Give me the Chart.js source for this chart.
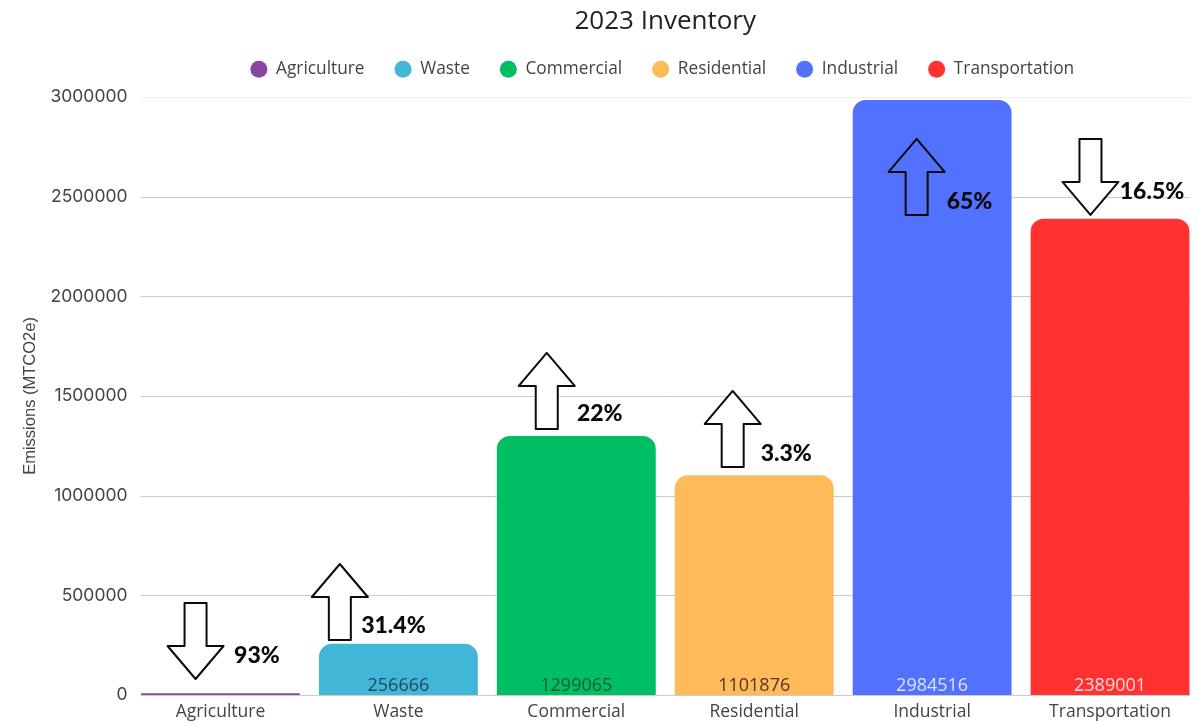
<!DOCTYPE html>
<html lang="en">
  <head>
    <meta charset="UTF-8" />
    <title>2023 Inventory</title>
    <style>
      html, body { margin: 0; background: #fff; }
      .chart-wrapper { position: relative; width: 1199px; height: 722px; }
    </style>
  </head>
  <body>
    <div class="chart-wrapper">
      <canvas id="chartBar"></canvas>
    </div>
    <script src="https://cdn.jsdelivr.net/npm/chart.js"></script>
    <script>
      const categories = ["Agriculture", "Waste", "Commercial", "Residential", "Industrial", "Transportation"];
      const emissions = [9000, 256666, 1299065, 1101876, 2984516, 2389001];
      const valueLabels = ["", "256666", "1299065", "1101876", "2984516", "2389001"];
      const barColors = ["#8746a0", "#41b6d6", "#00bf63", "#ffba5a", "#5271ff", "#ff3131"];
      const valueColors = ["#333", "#1f4a60", "#125c3c", "#55352a", "#dde3ff", "#ffdada"];
      const yTicks = [0, 500000, 1000000, 1500000, 2000000, 2500000, 3000000];

      // percent change notes, arrow tail sits at arrowBase in data units
      const changeLabels = ["93%", "31.4%", "22%", "3.3%", "65%", "16.5%"];
      const changeDirections = ["down", "up", "up", "up", "up", "down"];
      const arrowFills = ["#fff", "#fff", "#fff", "#fff", null, "#fff"];
      const arrowBase = [461500, 275900, 1334500, 1143800, 2408000, 2789300];
      const arrowShift = [-0.14, -0.329, -0.166, -0.121, -0.087, -0.11];
      const labelValue = [195700, 346000, 1409700, 1209000, 2473000, 2523000];
      const labelShift = [0.205, -0.028, 0.132, 0.18, 0.21, 0.236];

      Chart.defaults.font.family = "'Open Sans', sans-serif";
      Chart.defaults.color = "#444";

      const gridLines = {
        id: "gridLines",
        beforeDatasetsDraw(chart) {
          const { ctx, scales } = chart;
          const left = scales.x.getPixelForValue(0) - scales.x.width / 12 + 9;
          const right = scales.x.getPixelForValue(5) + scales.x.width / 12 - 9;
          ctx.save();
          ctx.lineWidth = 1;
          yTicks.forEach((t) => {
            const y = Math.round(scales.y.getPixelForValue(t)) + 0.5;
            ctx.strokeStyle = t === 3000000 ? "#eee" : "#ccc";
            ctx.beginPath();
            ctx.moveTo(left, y);
            ctx.lineTo(right, y);
            ctx.stroke();
          });
          ctx.restore();
        },
      };

      function drawArrow(ctx, x, tailY, dir, fill) {
        const s = dir === "up" ? -1 : 1;
        ctx.beginPath();
        ctx.moveTo(x - 11, tailY);
        ctx.lineTo(x + 11, tailY);
        ctx.lineTo(x + 11, tailY + s * 43);
        ctx.lineTo(x + 28, tailY + s * 43);
        ctx.lineTo(x, tailY + s * 76);
        ctx.lineTo(x - 28, tailY + s * 43);
        ctx.lineTo(x - 11, tailY + s * 43);
        ctx.closePath();
        if (fill) {
          ctx.fillStyle = fill;
          ctx.fill();
        }
        ctx.stroke();
      }

      const annotations = {
        id: "annotations",
        afterDatasetsDraw(chart) {
          const { ctx, scales } = chart;
          const step = scales.x.width / categories.length;
          ctx.save();
          categories.forEach((c, i) => {
            const cx = scales.x.getPixelForValue(i);
            // value inside the bar
            ctx.font = "18px 'Open Sans', sans-serif";
            ctx.fillStyle = valueColors[i];
            ctx.textAlign = "center";
            ctx.textBaseline = "middle";
            ctx.fillText(valueLabels[i], cx, scales.y.getPixelForValue(0) - 9);
            // arrow
            ctx.strokeStyle = "#0a0a0a";
            ctx.lineWidth = 2;
            ctx.lineJoin = "round";
            drawArrow(ctx, cx + arrowShift[i] * step, scales.y.getPixelForValue(arrowBase[i]), changeDirections[i], arrowFills[i]);
            // percent
            ctx.font = "900 23px Lato, sans-serif";
            ctx.fillStyle = "#0a0a0a";
            ctx.fillText(changeLabels[i], cx + labelShift[i] * step, scales.y.getPixelForValue(labelValue[i]));
          });
          ctx.restore();
        },
      };

      // title and legend are centred over the plot, not the canvas; legend gets extra room below
      const headerLayout = {
        id: "headerLayout",
        beforeInit(chart) {
          const fit = chart.legend.fit;
          chart.legend.fit = function () {
            fit.call(this);
            this.height += 11;
          };
        },
        afterLayout(chart) {
          const { left, right } = chart.chartArea;
          chart.legend.left = left - 3;
          chart.legend.right = right - 3;
          chart.legend.top += 2;
          chart.legend.bottom += 2;
          chart.titleBlock.left = left;
          chart.titleBlock.right = right;
          chart.titleBlock.top += 7;
          chart.titleBlock.bottom += 7;
        },
      };

      new Chart(document.getElementById("chartBar"), {
        type: "bar",
        data: {
          labels: categories,
          datasets: [
            {
              data: emissions,
              backgroundColor: barColors,
              borderRadius: 13,
              categoryPercentage: 1,
              barPercentage: 0.893,
            },
          ],
        },
        options: {
          responsive: true,
          maintainAspectRatio: false,
          animation: false,
          layout: { padding: 0 },
          scales: {
            x: {
              afterFit(scale) { scale.height = 27; },
              grid: { display: false, drawTicks: false },
              border: { display: false },
              ticks: { font: { size: 17.5 }, color: "#444", padding: 7, maxRotation: 0 },
            },
            y: {
              min: 0,
              max: 3000000,
              afterFit(scale) { scale.width = 131.5; },
              afterBuildTicks(scale) { scale.ticks = yTicks.map((v) => ({ value: v })); },
              grid: { display: false, drawTicks: false },
              border: { display: false },
              ticks: {
                font: { family: "Inter", size: 17.5 },
                color: "#444",
                padding: 4,
                callback: (v) => String(v),
              },
              title: {
                display: true,
                text: "Emissions (MTCO2e)",
                font: { family: "'Liberation Sans'", size: 16.5 },
                color: "#444",
                padding: { top: 21, bottom: 0 },
              },
            },
          },
          plugins: {
            title: {
              display: true,
              text: "2023 Inventory",
              font: { size: 26, weight: "normal", lineHeight: 1.1 },
              color: "#222",
              padding: { top: 0, bottom: 0 },
            },
            legend: {
              labels: {
                usePointStyle: true,
                pointStyle: "circle",
                boxWidth: 17,
                boxHeight: 12,
                padding: 30,
                font: { size: 17.3 },
                color: "#444",
                generateLabels: () =>
                  categories.map((c, i) => ({
                    text: c,
                    fillStyle: barColors[i],
                    strokeStyle: barColors[i],
                    lineWidth: 0,
                    pointStyle: "circle",
                    fontColor: "#444",
                    index: i,
                  })),
              },
            },
            tooltip: { enabled: false },
          },
        },
        plugins: [headerLayout, gridLines, annotations],
      });
    </script>
  </body>
</html>
